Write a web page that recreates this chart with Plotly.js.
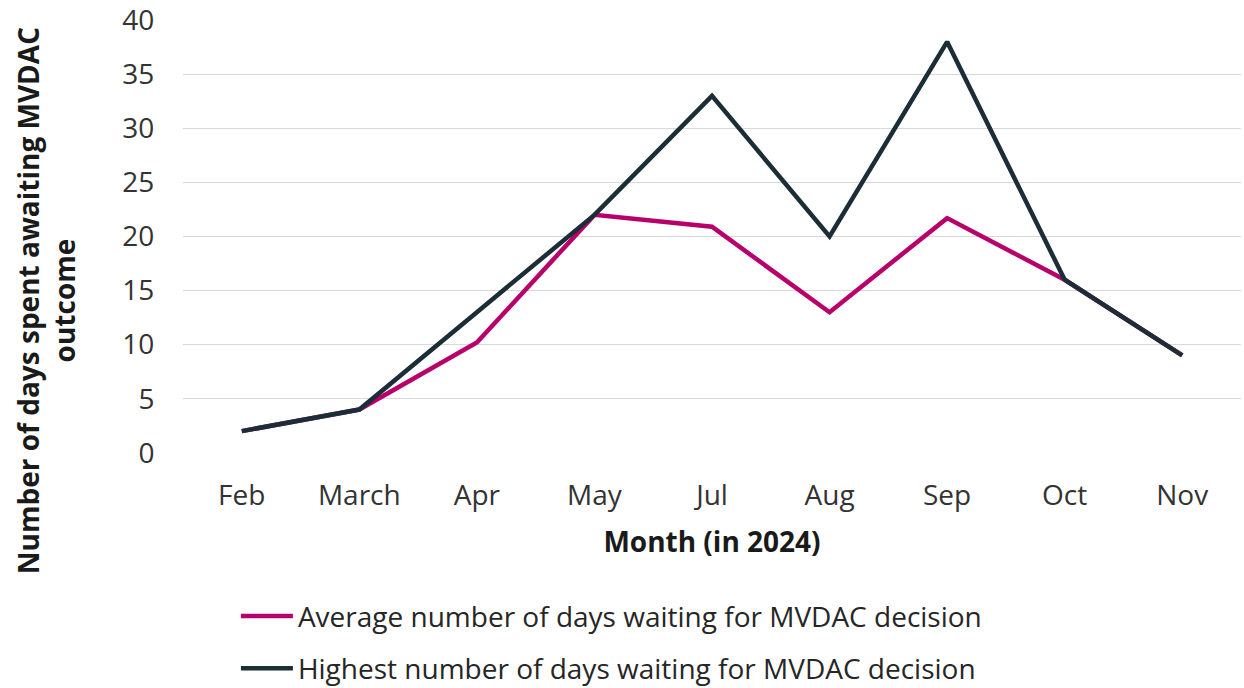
<!DOCTYPE html>
<html><head><meta charset="utf-8">
<script src="https://cdn.plot.ly/plotly-3.0.1.min.js"></script>
<style>html,body{margin:0;padding:0;background:#fff}#chart{width:1244px;height:688px}</style>
</head><body><div id="chart"></div>
<script>
const months = ["Feb","March","Apr","May","Jul","Aug","Sep","Oct","Nov"];
const averageDays = [2, 4, 10.2, 22, 20.9, 13, 21.7, 16, 9];
const highestDays = [2, 4, 13, 22, 33, 20, 38, 16, 9];
const yTicks = [0,5,10,15,20,25,30,35,40];

const FONT = "Open Sans, Noto Sans, sans-serif";
const traces = [
  {x: months, y: averageDays, type: "scatter", mode: "lines", name: "Average number of days waiting for MVDAC decision",
   line: {color: "#B8006B", width: 4.5}, legendgroup: "a"},
  {x: months, y: highestDays, type: "scatter", mode: "lines", name: "Highest number of days waiting for MVDAC decision",
   line: {color: "#1B2D37", width: 4.5}, legendgroup: "b"}
];
const layout = {
  width: 1244, height: 688,
  margin: {l: 183, r: 3, t: 20, b: 235},
  paper_bgcolor: "#fff", plot_bgcolor: "#fff",
  font: {family: FONT, color: "#333333", size: 28},
  showlegend: true,
  legend: {orientation: "v", x: 0.05, xanchor: "left", yref: "container", y: 0.1406, yanchor: "top",
    font: {family: FONT, size: 28, color: "#262626"}, traceorder: "grouped", tracegroupgap: 13,
    itemwidth: 52},
  xaxis: {type: "category", range: [-0.5, 8.5], showgrid: false, zeroline: false, showline: false,
    ticks: "outside", ticklen: 17, tickcolor: "rgba(0,0,0,0)", tickfont: {size: 28, color: "#333"},
    title: {text: "<b>Month (in 2024)</b>", font: {size: 28, color: "#1a1a1a"}, standoff: 20}},
  yaxis: {range: [-0.02, 40.02], tickvals: yTicks, ticktext: yTicks.map(String), showgrid: true, gridcolor: "#d9d9d9", gridwidth: 1.5,
    zeroline: false, showline: false, ticks: "outside", ticklen: 22, tickcolor: "rgba(0,0,0,0)",
    tickfont: {size: 28, color: "#333"}},
  annotations: [{xref: "paper", yref: "paper", x: -0.1295, y: 0.353, xanchor: "center", yanchor: "middle",
    textangle: -90, showarrow: false, align: "center",
    text: "<b>Number of days spent awaiting MVDAC<br>outcome</b>", font: {size: 28, color: "#1a1a1a", family: FONT}}]
};
Plotly.newPlot("chart", traces, layout, {displayModeBar: false, staticPlot: true});
</script></body></html>
